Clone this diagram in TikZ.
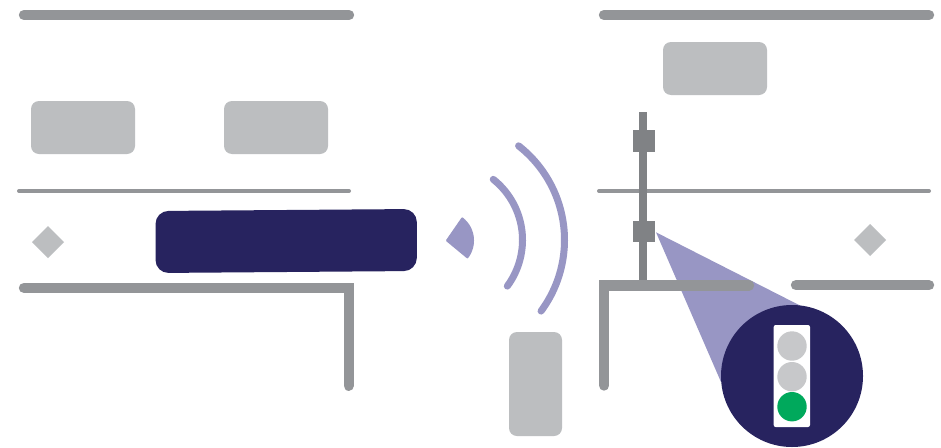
\documentclass[tikz,border=0pt]{standalone}
\definecolor{road}{HTML}{939598}
\definecolor{pole}{HTML}{808285}
\definecolor{lightgray2}{HTML}{BCBEC0}
\definecolor{navy}{HTML}{27235F}
\definecolor{signal}{HTML}{9896C4}
\definecolor{lampoff}{HTML}{C7C8CA}
\definecolor{lampgo}{HTML}{00A95C}
\tikzset{
  roadline/.style={draw=road,line width=10.4pt,line cap=round,miter limit=10},
  thinline/.style={draw=road,line width=4pt,line cap=round},
  graybox/.style={fill=lightgray2,rounded corners=8pt},
  poleline/.style={fill=pole},
  wave/.style={draw=signal,line width=7pt,line cap=round},
  lamp/.style={radius=14.7}
}
\begin{document}
\begin{tikzpicture}[x=1pt,y=-1pt]
\useasboundingbox (0,0) rectangle (941,447);
\fill[white] (0,0) rectangle (941,447);
% top bars
\draw[roadline] (24,15) -- (349,15);
\draw[roadline] (604,15) -- (929,15);
% thin lines
\draw[thinline] (19,191) -- (349,191);
\draw[thinline] (599,191) -- (929,191);
% gray boxes
\fill[graybox] (31,101) rectangle (135,154);
\fill[graybox] (224,101) rectangle (328,154);
\fill[graybox] (663,42) rectangle (767,95);
\fill[graybox] (509,332) rectangle (562,436);
% diamonds
\fill[lightgray2] (48,226) -- (64,242) -- (48,258) -- (32,242) -- cycle;
\fill[lightgray2] (870,224) -- (886,240) -- (870,256) -- (854,240) -- cycle;
% vehicle
\fill[navy,rounded corners=13pt] (155.5,211) -- (416.8,209) -- (416.8,271) -- (155.5,273) -- cycle;
% left road
\draw[roadline] (24,287.8) -- (348.7,287.8) -- (348.7,385.7);
% signal waves
\filldraw[fill=signal,draw=signal,line width=2pt,line join=round]
  plot[domain=-52:37,samples=30] ({445+28*cos(\x)},{240.5+28*sin(\x)}) -- (447,240.5) -- cycle;
\draw[wave] plot[domain=-51.5:36.5,samples=40,smooth] ({445+77.5*cos(\x)},{240+77.5*sin(\x)});
\draw[wave] plot[domain=-52:36.5,samples=50,smooth] ({445+119.5*cos(\x)},{240+119.5*sin(\x)});
% pole
\fill[poleline] (639,111.7) rectangle (647.3,281);
\fill[poleline] (633,130) rectangle (655,151.7);
\fill[poleline] (633,220.7) rectangle (655,241.7);
% light cone
\fill[signal] (656,232.3) -- (800,305.5) -- (721,382) -- cycle;
% right roads
\draw[roadline] (604.2,385.5) -- (604.2,285.4) -- (749,285.4);
\draw[roadline] (796,285.2) -- (929,285.2);
% magnified traffic light
\fill[navy] (792,376) circle [radius=71];
\fill[white,rounded corners=2pt] (773.7,325) rectangle (810,427);
\fill[lampoff] (792,346) circle [lamp];
\fill[lampoff] (792,376.7) circle [lamp];
\fill[lampgo] (792,406.7) circle [lamp];
\end{tikzpicture}
\end{document}
